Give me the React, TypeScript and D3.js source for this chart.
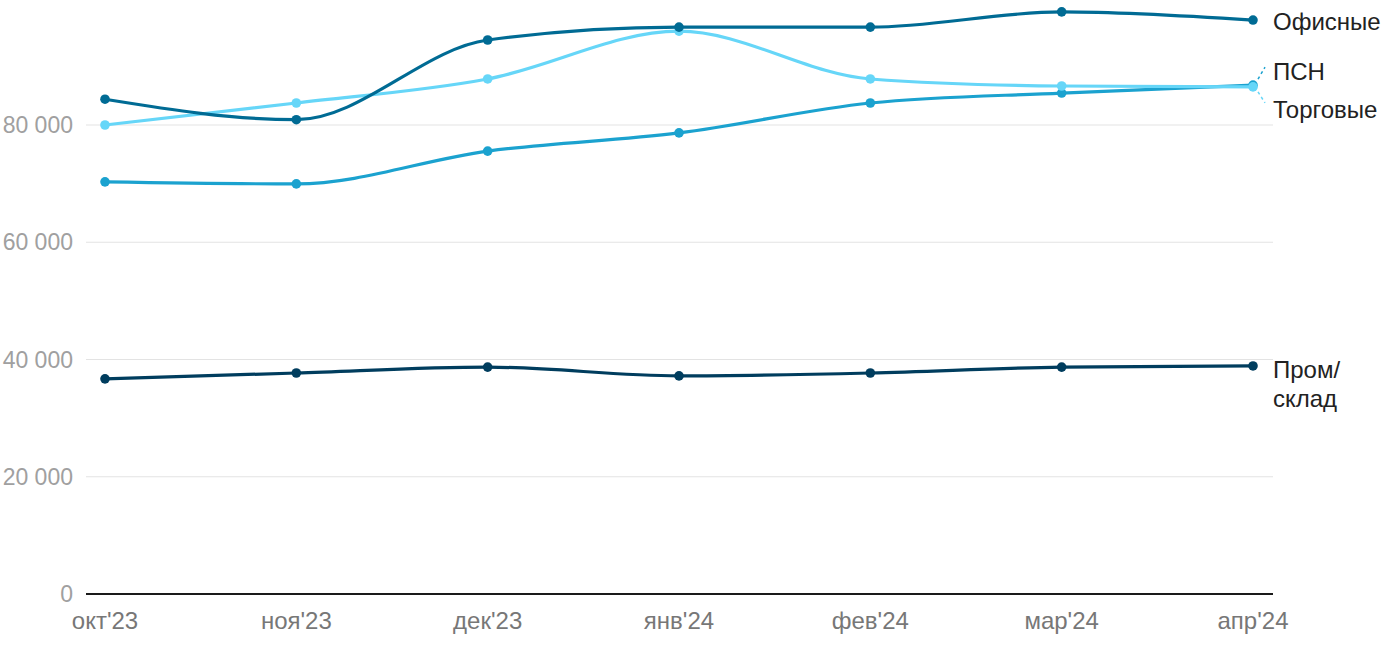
import React from "react";
import * as d3 from "d3";

const months = ["окт'23", "ноя'23", "дек'23", "янв'24", "фев'24", "мар'24", "апр'24"];
const office = [84400, 80900, 94500, 96700, 96700, 99300, 97900];
const retail = [80000, 83750, 87850, 96000, 87850, 86650, 86500];
const psn = [70300, 69950, 75550, 78650, 83750, 85450, 86800];
const warehouse = [36700, 37700, 38700, 37200, 37700, 38700, 38900];
const yTicks = [0, 20000, 40000, 60000, 80000];

const series = [
  { name: "Пром/склад", values: warehouse, color: "#003d5e" },
  { name: "ПСН", values: psn, color: "#1ba2cf" },
  { name: "Торговые", values: retail, color: "#66d6f8" },
  { name: "Офисные", values: office, color: "#006b94" },
];

const W = 1400, H = 650;
const left = 86, right = 1273, bottom = 594;

export default function App() {
  const x = d3.scalePoint<string>().domain(months).range([105, 1253]);
  const y = d3.scaleLinear().domain([0, 80000]).range([bottom, 125]);
  const line = d3
    .line<number>()
    .x((_, i) => x(months[i])!)
    .y((d) => y(d))
    .curve(d3.curveMonotoneX);
  const font = "'Liberation Sans', Arial, sans-serif";
  const fmt = (v: number) => d3.format(",")(v).replace(/,/g, " ");
  const lastX = x(months[months.length - 1])!;
  const labelX = 1273;
  const fs = 24;
  return (
    <svg width={W} height={H} style={{ position: "absolute", left: 0, top: 0 }} fontFamily={font}>
      {yTicks.map((t) => (
        <g key={t}>
          {t > 0 && <line x1={left} x2={right} y1={y(t)} y2={y(t)} stroke="#e3e3e3" strokeWidth={1} />}
          <text x={73} y={y(t)} dy="0.35em" textAnchor="end" fontSize={23} fill="#a0a0a0">
            {fmt(t)}
          </text>
        </g>
      ))}
      <line x1={left} x2={right} y1={y(0)} y2={y(0)} stroke="#1a1a1a" strokeWidth={2} />
      {months.map((m) => (
        <text key={m} x={x(m)} y={629} textAnchor="middle" fontSize={fs} fill="#777">
          {m}
        </text>
      ))}
      {series.map((s) => (
        <g key={s.name}>
          <path d={line(s.values) || ""} fill="none" stroke={s.color} strokeWidth={3.2} />
          {s.values.map((v, i) => (
            <circle key={i} cx={x(months[i])} cy={y(v)} r={4.8} fill={s.color} />
          ))}
        </g>
      ))}
      <line x1={lastX + 5} y1={y(psn[6]) - 6} x2={lastX + 12} y2={y(psn[6]) - 18} stroke="#1ba2cf" strokeWidth={1.5} strokeDasharray="3,3" />
      <line x1={lastX + 5} y1={y(retail[6]) + 5} x2={lastX + 12} y2={y(retail[6]) + 16} stroke="#66d6f8" strokeWidth={1.5} strokeDasharray="3,3" />
      <text x={labelX} y={y(office[6]) + 2} dy="0.35em" fontSize={fs} fill="#222">Офисные</text>
      <text x={labelX} y={72} dy="0.35em" fontSize={fs} fill="#222">ПСН</text>
      <text x={labelX} y={110} dy="0.35em" fontSize={fs} fill="#222">Торговые</text>
      <text x={labelX} y={370} dy="0.35em" fontSize={fs} fill="#222">Пром/</text>
      <text x={labelX} y={399} dy="0.35em" fontSize={fs} fill="#222">склад</text>
    </svg>
  );
}
